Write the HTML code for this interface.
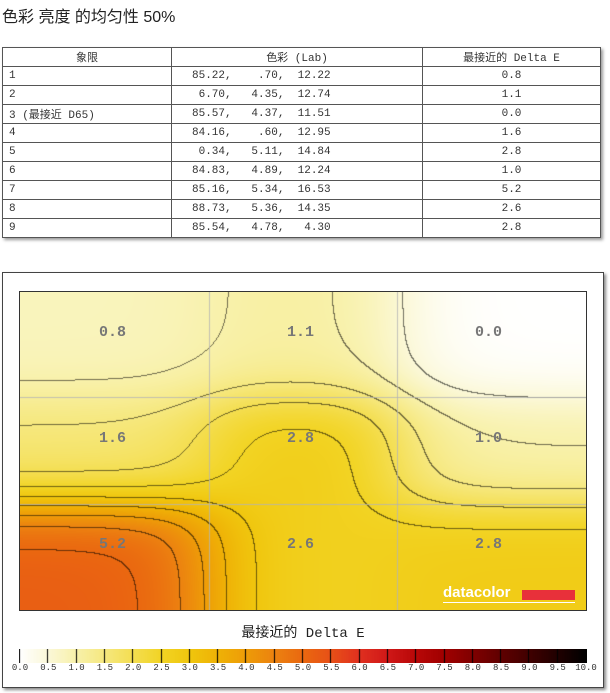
<!DOCTYPE html>
<html><head><meta charset="utf-8"><style>
body{margin:0;width:610px;height:693px;background:#fff;position:relative;overflow:hidden;font-family:"Liberation Mono","Noto Sans CJK SC",monospace;}
.t{position:absolute;left:2px;top:3px;font:16px "Liberation Sans","Noto Sans CJK SC",sans-serif;color:#222;}
table{position:absolute;left:2px;top:47px;width:599px;border-collapse:collapse;font-size:11px;color:#333;box-shadow:2px 2px 3px #999;}
td,th{border:1px solid #555;height:18px;padding:0 6px;font-weight:normal;}
th{text-align:center;}
td.c{text-align:center}
td.l{padding-left:20px;white-space:pre}
.box{position:absolute;left:2px;top:272px;width:600px;height:414px;border:1px solid #444;box-shadow:2px 2px 3px #888;}
canvas{position:absolute;}
.lab{position:absolute;font-size:15px;color:#777;font-weight:bold;}
</style></head><body>
<div class="t">色彩 亮度 的均匀性 50%</div>
<table>
<tr><th style="width:156px">象限</th><th style="width:238px">色彩 (Lab)</th><th>最接近的 Delta E</th></tr>
<tr><td>1</td><td class="l">85.22,    .70,  12.22</td><td class="c">0.8</td></tr>
<tr><td>2</td><td class="l"> 6.70,   4.35,  12.74</td><td class="c">1.1</td></tr>
<tr><td>3 (最接近 D65)</td><td class="l">85.57,   4.37,  11.51</td><td class="c">0.0</td></tr>
<tr><td>4</td><td class="l">84.16,    .60,  12.95</td><td class="c">1.6</td></tr>
<tr><td>5</td><td class="l"> 0.34,   5.11,  14.84</td><td class="c">2.8</td></tr>
<tr><td>6</td><td class="l">84.83,   4.89,  12.24</td><td class="c">1.0</td></tr>
<tr><td>7</td><td class="l">85.16,   5.34,  16.53</td><td class="c">5.2</td></tr>
<tr><td>8</td><td class="l">88.73,   5.36,  14.35</td><td class="c">2.6</td></tr>
<tr><td>9</td><td class="l">85.54,   4.78,   4.30</td><td class="c">2.8</td></tr>
</table>
<div class="box"></div>
<canvas id="c" width="566" height="318" style="left:20px;top:292px;border:1px solid #333;margin:-1px"></canvas>
<div class="lab" style="left:99px;top:324px">0.8</div>
<div class="lab" style="left:287px;top:324px">1.1</div>
<div class="lab" style="left:475px;top:324px">0.0</div>
<div class="lab" style="left:99px;top:430px">1.6</div>
<div class="lab" style="left:287px;top:430px">2.8</div>
<div class="lab" style="left:475px;top:430px">1.0</div>
<div class="lab" style="left:99px;top:536px">5.2</div>
<div class="lab" style="left:287px;top:536px">2.6</div>
<div class="lab" style="left:475px;top:536px">2.8</div>
<div style="position:absolute;left:443px;top:584px;font:bold 15px 'Liberation Sans',sans-serif;color:#fff">datacolor</div>
<div style="position:absolute;left:522px;top:590px;width:53px;height:10px;background:#e8303a"></div>
<div style="position:absolute;left:443px;top:602px;width:132px;height:1px;background:#fff"></div>
<div style="position:absolute;left:0;width:606px;top:622px;text-align:center;font-size:14px;color:#222;font-family:'Liberation Mono','Noto Sans CJK SC',monospace">最接近的 Delta E</div>
<canvas id="cb" width="568" height="14" style="left:19px;top:649px"></canvas>
<div id="tl"></div>
<script>
var stops=[[0,[255,255,255]],[0.5,[251,248,216]],[1,[248,241,170]],[1.5,[246,232,126]],[2,[244,222,80]],[2.5,[242,212,36]],[3,[240,198,14]],[3.5,[239,178,6]],[4,[238,156,8]],[4.5,[236,130,16]],[5,[234,104,16]],[5.5,[232,80,24]],[6,[224,48,32]],[6.5,[208,24,24]],[7,[184,8,8]],[7.5,[160,0,0]],[8,[128,0,0]],[8.5,[96,0,0]],[9,[64,0,0]],[9.5,[32,0,0]],[10,[0,0,0]]];
function col(v){v=Math.max(0,Math.min(10,v));for(var i=0;i<stops.length-1;i++){if(v<=stops[i+1][0]){var t=(v-stops[i][0])/0.5,a=stops[i][1],b=stops[i+1][1];return [a[0]+(b[0]-a[0])*t,a[1]+(b[1]-a[1])*t,a[2]+(b[2]-a[2])*t];}}return [0,0,0];}
var V=[[0.8,1.1,0.0],[1.6,2.8,1.0],[5.2,2.6,2.8]];
var W=566,H=318,c=document.getElementById('c'),x=c.getContext('2d'),img=x.createImageData(W,H),F=new Float32Array(W*H);
for(var j=0;j<H;j++)for(var i=0;i<W;i++){var u=i/W*3-0.5,w=j/H*3-0.5,s=0,sw=0;for(var r=0;r<3;r++)for(var q=0;q<3;q++){var d=(u-q)*(u-q)+(w-r)*(w-r),k=Math.exp(-d/0.3);s+=k*V[r][q];sw+=k;}F[j*W+i]=s/sw;}
for(var j=0;j<H;j++)for(var i=0;i<W;i++){var v=F[j*W+i],cc=col(v),L=Math.floor(v/0.5),e=false;if(i<W-1&&Math.floor(F[j*W+i+1]/0.5)!=L)e=true;if(j<H-1&&Math.floor(F[(j+1)*W+i]/0.5)!=L)e=true;if(e)cc=[cc[0]*0.45,cc[1]*0.45,cc[2]*0.45];var p=(j*W+i)*4;img.data[p]=cc[0];img.data[p+1]=cc[1];img.data[p+2]=cc[2];img.data[p+3]=255;}
x.putImageData(img,0,0);
x.strokeStyle='rgba(180,180,180,0.8)';x.lineWidth=1;x.beginPath();
[189,377].forEach(function(a){x.moveTo(a+.5,0);x.lineTo(a+.5,H);});[105,212].forEach(function(a){x.moveTo(0,a+.5);x.lineTo(W,a+.5);});x.stroke();
var cb=document.getElementById('cb').getContext('2d'),sw=566/20;
for(var i=0;i<568;i++){var v=(i-1)/566*10,cc=col(v);cb.fillStyle='rgb('+(cc[0]|0)+','+(cc[1]|0)+','+(cc[2]|0)+')';cb.fillRect(i,0,1,14);}
cb.fillStyle='#000';for(var k=0;k<=20;k++){cb.fillRect(Math.round(1+k*sw)-1,0,1,14);}
var h='';for(var k=0;k<=20;k++){h+='<div style="position:absolute;top:663px;left:'+(20+k*sw-12)+'px;width:24px;text-align:center;font-size:9px;color:#333">'+(k*0.5).toFixed(1)+'</div>';}
document.getElementById('tl').innerHTML=h;
</script>
</body></html>
